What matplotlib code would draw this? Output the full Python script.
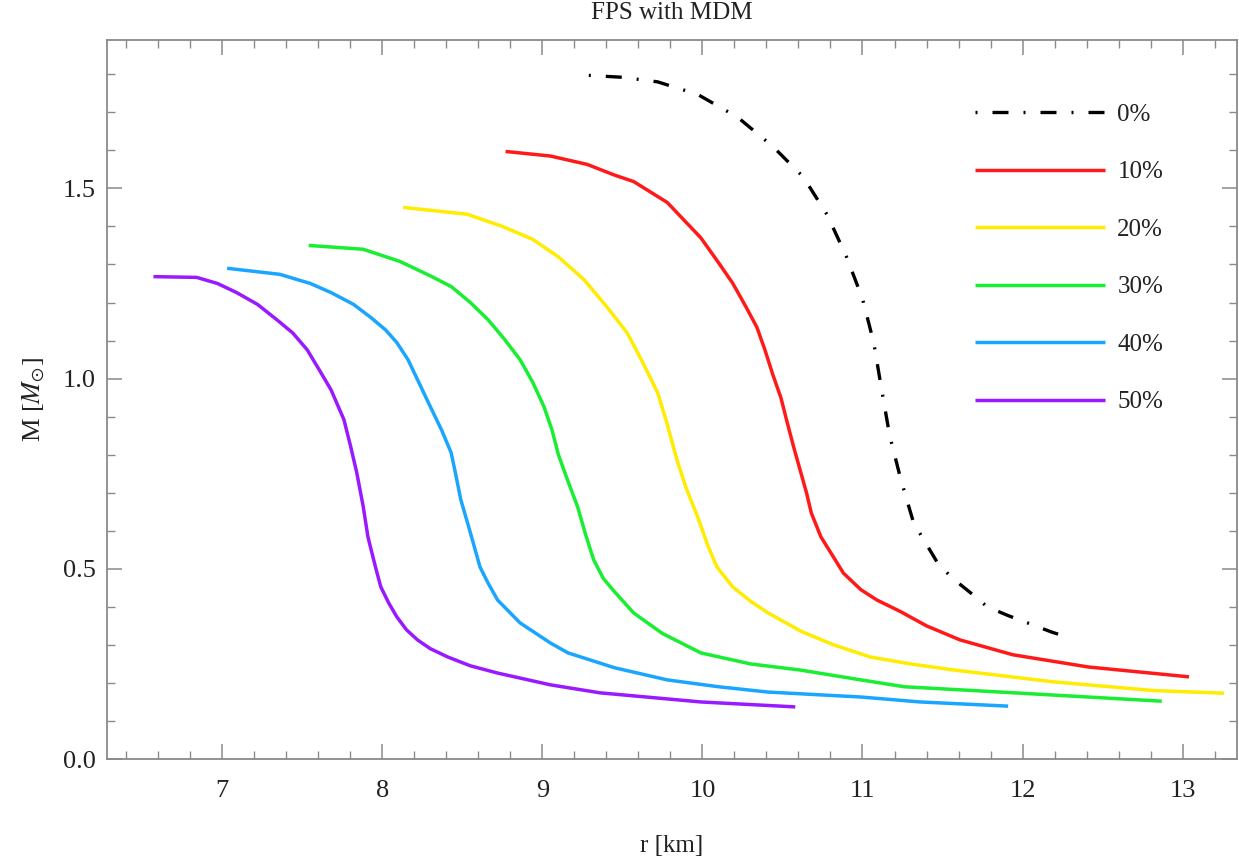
import matplotlib
matplotlib.use("Agg")
import matplotlib.pyplot as plt
from matplotlib.ticker import MultipleLocator, FormatStrFormatter

plt.rcParams["font.family"] = ["Liberation Serif", "DejaVu Serif"]
plt.rcParams["mathtext.fontset"] = "stix"

# mass-radius curves, FPS EoS with mirror dark matter fractions
r_0 = [9.29, 9.50, 9.72, 9.97, 10.22, 10.44, 10.63, 10.78, 10.90, 11.00, 11.07, 11.12,
       11.17, 11.24, 11.32, 11.47, 11.56, 11.675, 11.78, 11.91, 12.03, 12.18, 12.31]
m_0 = [1.797, 1.792, 1.78, 1.747, 1.687, 1.61, 1.53, 1.43, 1.32, 1.21, 1.095, 0.97,
       0.85, 0.734, 0.62, 0.515, 0.476, 0.437, 0.40, 0.377, 0.358, 0.334, 0.316]

r_10 = [8.77, 9.05, 9.28, 9.45, 9.57, 9.78, 9.99, 10.10, 10.19, 10.27, 10.34, 10.39,
        10.44, 10.49, 10.53, 10.57, 10.61, 10.65, 10.68, 10.74, 10.82, 10.88, 10.99,
        11.09, 11.24, 11.40, 11.61, 11.94, 12.41, 13.04]
m_10 = [1.597, 1.585, 1.563, 1.535, 1.518, 1.463, 1.37, 1.305, 1.25, 1.19, 1.135, 1.076,
        1.01, 0.95, 0.884, 0.82, 0.76, 0.70, 0.647, 0.584, 0.53, 0.489, 0.445,
        0.418, 0.387, 0.35, 0.313, 0.274, 0.242, 0.216]

r_20 = [8.13, 8.53, 8.75, 8.94, 9.10, 9.26, 9.40, 9.53, 9.63, 9.72, 9.78, 9.84, 9.90,
        9.97, 10.03, 10.09, 10.19, 10.30, 10.41, 10.62, 10.82, 11.05, 11.30, 11.57,
        12.19, 12.82, 13.26]
m_20 = [1.45, 1.432, 1.40, 1.366, 1.32, 1.26, 1.19, 1.12, 1.04, 0.963, 0.88, 0.787, 0.71,
        0.637, 0.565, 0.505, 0.452, 0.415, 0.384, 0.335, 0.30, 0.268, 0.25, 0.234,
        0.203, 0.18, 0.173]

r_30 = [7.54, 7.88, 8.11, 8.30, 8.43, 8.55, 8.66, 8.76, 8.86, 8.94, 9.01, 9.06, 9.10,
        9.16, 9.22, 9.27, 9.32, 9.38, 9.45, 9.57, 9.75, 9.99, 10.30, 10.61, 10.99,
        11.26, 11.99, 12.87]
m_30 = [1.35, 1.34, 1.308, 1.27, 1.242, 1.20, 1.155, 1.105, 1.05, 0.99, 0.926, 0.865, 0.80,
        0.73, 0.663, 0.59, 0.524, 0.475, 0.44, 0.384, 0.33, 0.279, 0.25, 0.234, 0.208,
        0.19, 0.173, 0.152]

r_40 = [7.03, 7.36, 7.55, 7.68, 7.82, 7.93, 8.02, 8.09, 8.16, 8.22, 8.30, 8.37, 8.43,
        8.46, 8.49, 8.55, 8.61, 8.66, 8.72, 8.86, 9.05, 9.16, 9.45, 9.78, 10.10, 10.41,
        10.99, 11.36, 11.91]
m_40 = [1.29, 1.274, 1.25, 1.226, 1.195, 1.16, 1.128, 1.095, 1.05, 0.997, 0.926, 0.865, 0.805,
        0.745, 0.682, 0.595, 0.505, 0.463, 0.418, 0.358, 0.305, 0.279, 0.24, 0.208, 0.19, 0.176,
        0.163, 0.15, 0.139]

r_50 = [6.57, 6.84, 6.97, 7.09, 7.22, 7.34, 7.44, 7.53, 7.61, 7.68, 7.76, 7.80, 7.84,
        7.88, 7.91, 7.93, 7.96, 7.99, 8.04, 8.09, 8.15, 8.22, 8.30, 8.41, 8.55, 8.72,
        9.05, 9.36, 9.99, 10.58]
m_50 = [1.268, 1.266, 1.25, 1.226, 1.195, 1.155, 1.12, 1.076, 1.02, 0.97, 0.892, 0.825, 0.753,
        0.665, 0.584, 0.55, 0.50, 0.453, 0.41, 0.374, 0.34, 0.313, 0.29, 0.268, 0.245, 0.226,
        0.195, 0.174, 0.15, 0.137]

labels = ["0%", "10%", "20%", "30%", "40%", "50%"]
colors = ["black", "#ff1a1a", "#ffec00", "#1aee33", "#1aa6ff", "#9a1aff"]

fig = plt.figure(figsize=(12.39, 8.64), dpi=100)
ax = fig.add_axes([0.0864, 0.1215, 0.912, 0.8322])

curves = [(r_0, m_0), (r_10, m_10), (r_20, m_20), (r_30, m_30), (r_40, m_40), (r_50, m_50)]
for i, (r, m) in enumerate(curves):
    if i == 0:
        ax.plot(r, m, color=colors[i], lw=2.4, label=labels[i],
                linestyle=(0, (0.6, 4.5, 4.8, 4.5)))
    else:
        ax.plot(r, m, color=colors[i], lw=2.5, label=labels[i],
                solid_capstyle="butt", solid_joinstyle="round")

ax.set_xlim(6.28, 13.34)
ax.set_ylim(0.0, 1.89)

ax.xaxis.set_major_locator(MultipleLocator(1))
ax.xaxis.set_minor_locator(MultipleLocator(0.2))
ax.yaxis.set_major_locator(MultipleLocator(0.5))
ax.yaxis.set_minor_locator(MultipleLocator(0.1))
ax.yaxis.set_major_formatter(FormatStrFormatter("%.1f"))

for s in ax.spines.values():
    s.set_color("#8a8a8a")
    s.set_linewidth(1.3)

ax.tick_params(which="both", direction="in", top=True, right=True,
               color="#8a8a8a", labelsize=19, labelcolor="#222222")
ax.tick_params(which="major", length=11, width=1.1)
ax.tick_params(which="minor", length=6, width=1.0)
ax.tick_params(axis="x", which="major", pad=15)
ax.tick_params(axis="y", which="major", pad=8)

ax.set_title("FPS with MDM", fontsize=18, color="#222222", pad=15)
ax.set_xlabel("r [km]", fontsize=18, color="#222222")
ax.set_ylabel(r"M [$M_{\odot}$]", fontsize=19, color="#222222")
ax.xaxis.set_label_coords(0.5, -0.105)
ax.yaxis.set_label_coords(-0.053, 0.5)

ax.legend(loc="upper left", bbox_to_anchor=(0.768, 0.912), frameon=False,
          fontsize=18, handlelength=5.2, handletextpad=0.5, labelspacing=1.4,
          borderpad=0, borderaxespad=0, labelcolor="#222222")

fig.savefig("out.png", dpi=100)
